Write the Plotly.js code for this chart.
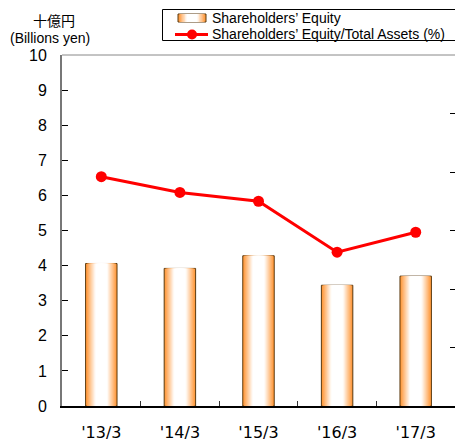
<!DOCTYPE html>
<html>
<head>
<meta charset="utf-8">
<script src="https://cdn.plot.ly/plotly-3.0.1.min.js"></script>
<style>html,body{margin:0;padding:0;background:#fff;}#chart{width:455px;height:441px;}</style>
</head>
<body>
<div id="chart"></div>
<script>
const categories = ["'13/3", "'14/3", "'15/3", "'16/3", "'17/3"];
const equity = [4.06, 3.92, 4.28, 3.44, 3.70];
const equityRatio = [39.2, 36.5, 35.0, 26.3, 29.7];
const leftTicks = [0,1,2,3,4,5,6,7,8,9,10];
const seriesNames = ["Shareholders\u2019 Equity", "Shareholders\u2019 Equity/Total Assets (%)"];

const FONT = "Liberation Sans, Arial, sans-serif";
const W = 455, H = 441;
const M = {l: 62, r: 0, t: 55, b: 35};
const PW = W - M.l - M.r, PH = H - M.t - M.b;
const px = x => (x - M.l) / PW;
const py = y => (H - M.b - y) / PH;

const orange = [255, 150, 55];
const layers = 14;
const mix = t => 'rgb(' + orange.map(v => Math.round(v + (255 - v) * t)).join(',') + ')';
const traces = [];
for (let k = 0; k < layers; k++) {
  const t = Math.min(1, k / (layers * 0.6));
  const w = 0.4 * (1 - k / layers);
  traces.push({
    type: 'bar',
    x: categories,
    y: equity,
    width: categories.map(() => w),
    name: seriesNames[0],
    showlegend: false,
    hoverinfo: 'skip',
    marker: {
      color: mix(t),
      line: k === 0 ? {color: '#5a3a10', width: 1} : {width: 0}
    }
  });
}
traces.push({
  type: 'scatter',
  mode: 'lines+markers',
  x: categories,
  y: equityRatio,
  yaxis: 'y2',
  name: seriesNames[1],
  showlegend: false,
  line: {color: '#ff0000', width: 3},
  marker: {color: '#ff0000', size: 11}
});

// custom legend (box, symbols, texts)
const shapes = [
  {type: 'line', xref: 'paper', yref: 'paper', x0: 0, x1: 1, y0: 1, y1: 1,
   line: {color: '#888', width: 1}},
  {type: 'rect', xref: 'paper', yref: 'paper', x0: px(162.5), x1: px(470), y0: py(9.5), y1: py(40.5),
   line: {color: '#000', width: 1}, fillcolor: '#fff'}
];
const lx0 = 178, lx1 = 206, ly0 = 14, ly1 = 22;
const lLayers = 10;
for (let k = 0; k < lLayers; k++) {
  const t = Math.min(1, k / (lLayers * 0.6));
  const half = (lx1 - lx0) / 2 * (1 - k / lLayers);
  const c = (lx0 + lx1) / 2;
  shapes.push({type: 'rect', xref: 'paper', yref: 'paper',
    x0: px(c - half), x1: px(c + half), y0: py(ly1), y1: py(ly0),
    fillcolor: mix(t), line: k === 0 ? {color: '#5a3a10', width: 1} : {width: 0}});
}
shapes.push({type: 'line', xref: 'paper', yref: 'paper', x0: px(175), x1: px(208), y0: py(34.5), y1: py(34.5),
  line: {color: '#ff0000', width: 3}});
shapes.push({type: 'circle', xref: 'paper', yref: 'paper', x0: px(187), x1: px(197), y0: py(39.5), y1: py(29.5),
  fillcolor: '#ff0000', line: {color: '#ff0000', width: 0}});

const layout = {
  width: W, height: H,
  margin: M,
  paper_bgcolor: '#fff', plot_bgcolor: '#fff',
  barmode: 'overlay',
  font: {family: FONT, color: '#000', size: 13},
  showlegend: false,
  xaxis: {
    type: 'category', range: [-0.5, 4.5],
    showline: true, linecolor: '#000', linewidth: 1.5,
    ticks: 'inside', tickson: 'boundaries', ticklen: 5, tickcolor: '#333',
    showgrid: false, zeroline: false,
    tickfont: {family: 'DejaVu Sans', size: 16, color: '#000'},
    ticklabelstandoff: 11
  },
  yaxis: {
    range: [0, 10], tickvals: leftTicks,
    showline: true, linecolor: '#777', linewidth: 2,
    ticks: 'inside', ticklen: 6, tickcolor: '#000',
    showgrid: false, zeroline: false,
    tickfont: {family: FONT, size: 16, color: '#000'},
    ticklabelstandoff: 10
  },
  yaxis2: {
    overlaying: 'y', side: 'right', range: [0, 60], dtick: 10,
    ticks: 'inside', ticklen: 5, tickcolor: '#000',
    showticklabels: false, showline: false, showgrid: false, zeroline: false
  },
  shapes: shapes,
  annotations: [
    {text: '十億円', xref: 'paper', yref: 'paper', x: px(54), y: py(20),
     xanchor: 'center', yanchor: 'middle', showarrow: false,
     font: {family: 'Noto Sans CJK JP', size: 14, color: '#000'}},
    {text: '(Billions yen)', xref: 'paper', yref: 'paper', x: px(49.5), y: py(38),
     xanchor: 'center', yanchor: 'middle', showarrow: false,
     font: {family: FONT, size: 14, color: '#000'}},
    {text: seriesNames[0], xref: 'paper', yref: 'paper', x: px(210), y: py(18),
     xanchor: 'left', yanchor: 'middle', showarrow: false,
     font: {family: FONT, size: 14, color: '#000'}},
    {text: seriesNames[1], xref: 'paper', yref: 'paper', x: px(210), y: py(34.5),
     xanchor: 'left', yanchor: 'middle', showarrow: false,
     font: {family: FONT, size: 14, color: '#000'}}
  ]
};

Plotly.newPlot('chart', traces, layout, {displayModeBar: false, staticPlot: true});
</script>
</body>
</html>
